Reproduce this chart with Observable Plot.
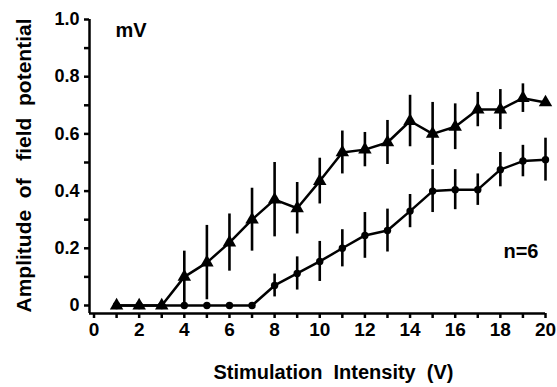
<!DOCTYPE html>
<html>
<head>
<meta charset="utf-8">
<script src="https://cdn.jsdelivr.net/npm/d3@7"></script>
<script src="https://cdn.jsdelivr.net/npm/@observablehq/plot@0.6"></script>
<style>
  html, body { margin: 0; padding: 0; background: #fff; }
  svg { display: block; }
</style>
</head>
<body>
<div id="chart"></div>
<script>
const volts = [1,2,3,4,5,6,7,8,9,10,11,12,13,14,15,16,17,18,19,20];
const triMean = [0,0,0,0.10,0.15,0.22,0.30,0.37,0.34,0.435,0.535,0.545,0.57,0.645,0.60,0.625,0.685,0.685,0.725,0.71];
const triErr  = [0,0,0,0.09,0.13,0.10,0.11,0.13,0.09,0.08,0.075,0.06,0.077,0.09,0.11,0.08,0.06,0.07,0.05,0];
const cirMean = [0,0,0,0,0,0,0,0.07,0.112,0.154,0.20,0.245,0.262,0.33,0.40,0.405,0.405,0.475,0.505,0.51];
const cirErr  = [0,0,0,0,0,0,0,0.04,0.058,0.07,0.065,0.08,0.075,0.058,0.075,0.07,0.055,0.06,0.055,0.075];
const yTicks = [0,0.2,0.4,0.6,0.8,1.0];
const yMinor = [0.1,0.3,0.5,0.7,0.9];
const xTicks = d3.range(0,21);
const xLabel = "Stimulation  Intensity  (V)";
const yLabel = "Amplitude  of   field  potential";

const tri = volts.map((v,i)=>({v, m: triMean[i], e: triErr[i]}));
const cir = volts.map((v,i)=>({v, m: cirMean[i], e: cirErr[i]}));
const xMin = -0.2, yMin = -0.028;
const font = "Liberation Sans, Arial, sans-serif";

const chart = Plot.plot({
  width: 557,
  height: 387,
  marginLeft: 89,
  marginRight: 12,
  marginTop: 19,
  marginBottom: 74,
  style: {fontFamily: font, fontWeight: "bold", fontSize: "18px", color: "#000", background: "#fff"},
  x: {domain: [xMin, 20], axis: null},
  y: {domain: [yMin, 1], axis: null},
  marks: [
    Plot.ruleX([xMin], {y1: yMin, y2: 1, stroke: "#000", strokeWidth: 2.5}),
    Plot.ruleY([yMin], {x1: xMin, x2: 20, stroke: "#000", strokeWidth: 2.5}),
    Plot.axisY({ticks: yTicks, tickSize: 5, tickPadding: 5, strokeWidth: 2.5, label: null,
      tickFormat: d => d === 0 ? "0" : d3.format(".1f")(d), fontSize: 18, fontWeight: "bold"}),
    Plot.axisY({ticks: yMinor, tickSize: 5, strokeWidth: 2.5, label: null, tickFormat: () => ""}),
    Plot.axisX({ticks: xTicks, tickSize: 5, tickPadding: 4, strokeWidth: 2.5, label: null,
      tickFormat: d => d % 2 === 0 ? String(d) : "", fontSize: 19, fontWeight: "bold"}),
    // circle series
    Plot.ruleX(cir.filter(d=>d.e>0), {x: "v", y1: d=>d.m-d.e, y2: d=>d.m+d.e, stroke: "#000", strokeWidth: 2.6}),
    Plot.line(cir, {x: "v", y: "m", stroke: "#000", strokeWidth: 2.5}),
    Plot.dot(cir, {x: "v", y: "m", r: 3.7, fill: "#000", stroke: "none"}),
    // triangle series
    Plot.ruleX(tri.filter(d=>d.e>0), {x: "v", y1: d=>d.m-d.e, y2: d=>d.m+d.e, stroke: "#000", strokeWidth: 2.6}),
    Plot.line(tri, {x: "v", y: "m", stroke: "#000", strokeWidth: 2.5}),
    Plot.dot(tri, {x: "v", y: "m", symbol: "triangle", r: 5, fill: "#000", stroke: "none"}),
    Plot.text(["mV"], {frameAnchor: "top-left", dx: 26, dy: 3, fontSize: 20, fontWeight: "bold", textAnchor: "start"}),
    Plot.text(["n=6"], {frameAnchor: "top-right", dx: -7, dy: 224, fontSize: 20, fontWeight: "bold", textAnchor: "end"}),
    Plot.text([xLabel], {frameAnchor: "bottom", dy: 65, dx: 16, fontSize: 20, fontWeight: "bold"}),
    Plot.text([yLabel], {frameAnchor: "left", dx: -65, dy: -1, rotate: -90, textAnchor: "middle", fontSize: 21, fontWeight: "bold"})
  ]
});
document.getElementById("chart").appendChild(chart);
</script>
</body>
</html>
